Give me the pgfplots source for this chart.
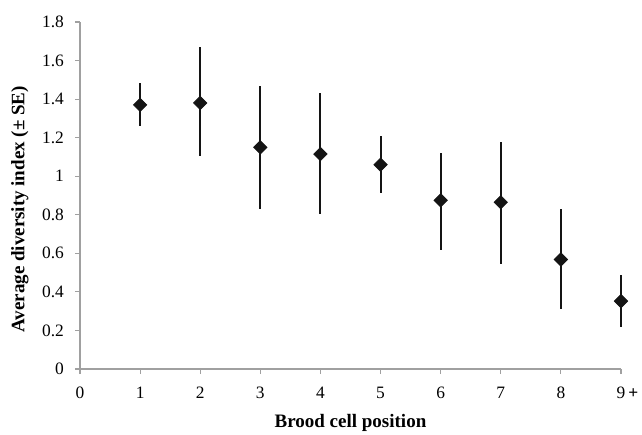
\documentclass[border=0pt]{standalone}
\usepackage{fontspec}
\setmainfont{Liberation Serif}
\usepackage{pgfplots}
\pgfplotsset{compat=1.18}
\definecolor{axgray}{RGB}{160,160,160}
\definecolor{pt}{RGB}{20,20,20}
\begin{document}
\begin{tikzpicture}
\begin{axis}[
    scale only axis,
    width=270.5pt, height=173.5pt,
    xmin=0, xmax=9, ymin=0, ymax=1.8,
    axis lines*=left,
    axis line style={axgray, line width=0.6pt},
    tick style={axgray, line width=0.6pt},
    tick align=outside,
    major tick length=2.5pt,
    xtick={0,1,...,9},
    xticklabels={0,1,2,3,4,5,6,7,8,{9\rlap{\,\textbf{+}}}},
    ytick={0,0.2,...,1.8},
    yticklabel style={/pgf/number format/fixed, /pgf/number format/precision=1, xshift=-2pt},
    /pgf/number format/assume math mode=true,
    ticklabel style={font=\fontsize{8.7}{10}\selectfont, text=black},
    xticklabel style={yshift=-3pt},
    label style={font=\bfseries\fontsize{9.5}{11}\selectfont},
    xlabel={Brood cell position},
    ylabel={Average diversity index (± SE)},
    xlabel style={yshift=-1pt},
    ylabel style={at={(ticklabel cs:0.46)}, yshift=0pt},
    clip=false,
]
\addplot[only marks, mark=square*, mark size=2.35pt, color=pt,
    mark options={rotate=45},
    error bars/.cd, y dir=both, y explicit,
    error bar style={line width=1pt, color=pt},
    error mark=none]
  table[x=x, y=y, y error plus=ep, y error minus=em] {
x y ep em
1 1.37 0.115 0.110
2 1.38 0.29 0.275
3 1.15 0.32 0.32
4 1.115 0.315 0.31
5 1.06 0.15 0.148
6 0.875 0.248 0.257
7 0.865 0.31 0.32
8 0.568 0.262 0.255
9 0.352 0.136 0.134
};
\end{axis}
\pgfresetboundingbox
\path ([shift={(-40pt,-32.5pt)}]current axis.south west) rectangle ([shift={(10.5pt,11pt)}]current axis.north east);
\end{tikzpicture}
\end{document}
